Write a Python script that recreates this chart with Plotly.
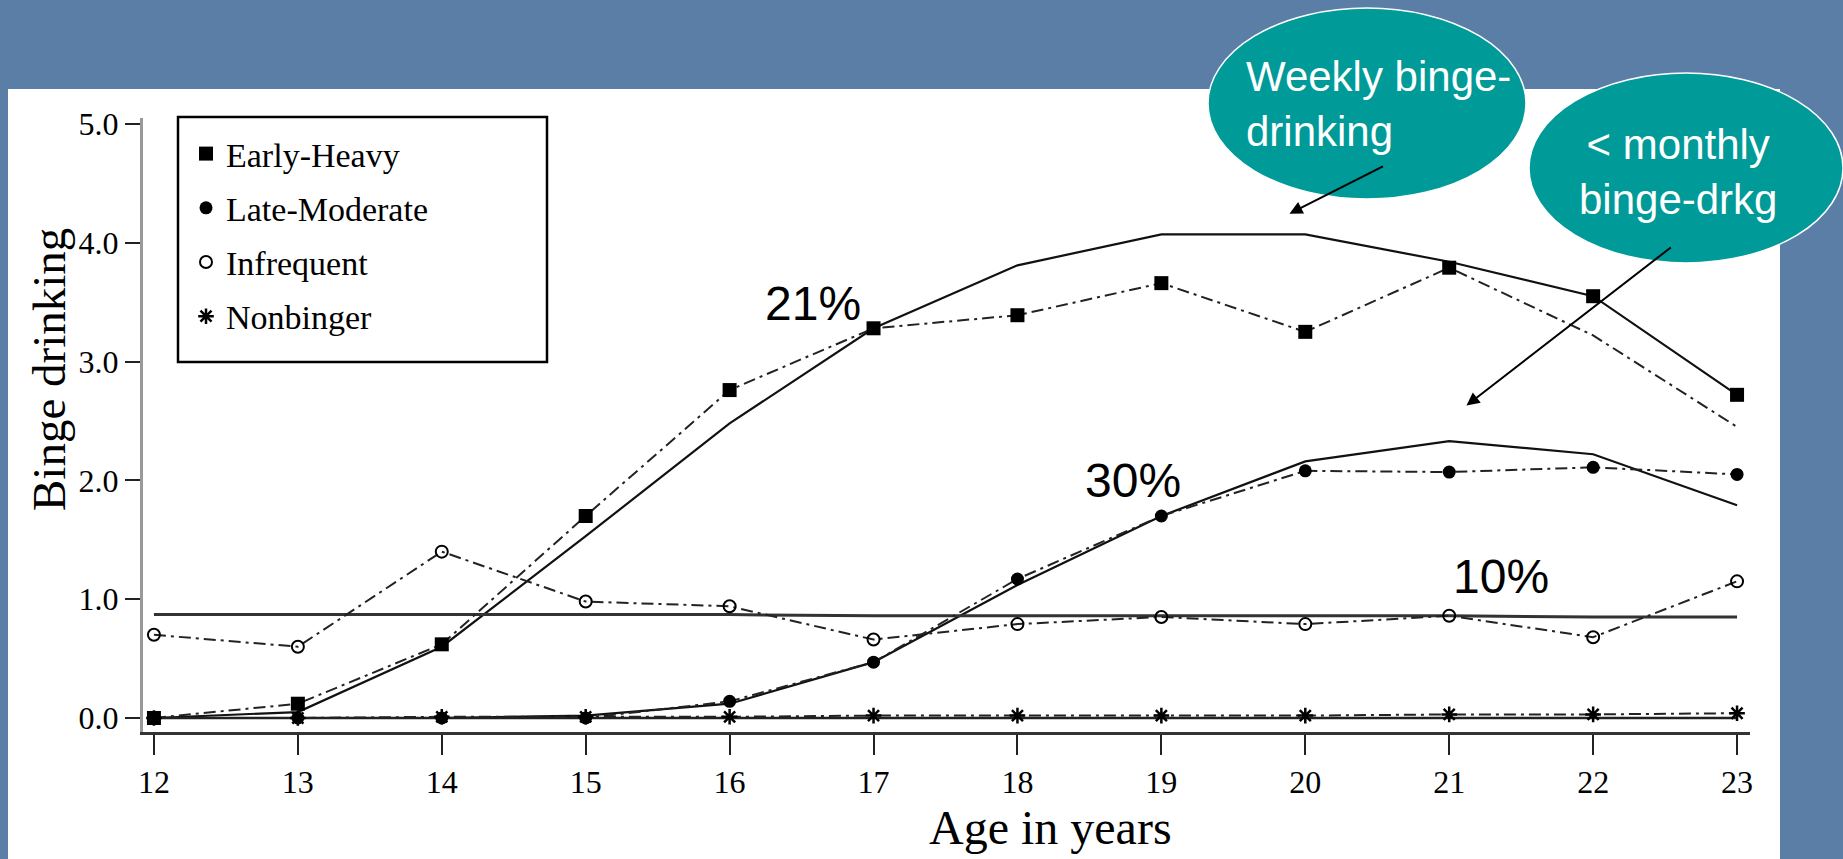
import plotly.graph_objects as go

# ---------------- data ----------------
ages = [12, 13, 14, 15, 16, 17, 18, 19, 20, 21, 22, 23]
series_names = ["Early-Heavy", "Late-Moderate", "Infrequent", "Nonbinger"]

early_heavy_points = [0.00, 0.12, 0.62, 1.70, 2.76, 3.28, 3.39, 3.66, 3.25, 3.79, 3.55, 2.72]
early_heavy_dashed = [0.00, 0.12, 0.62, 1.70, 2.76, 3.28, 3.39, 3.66, 3.25, 3.79, 3.22, 2.45]
early_heavy_fit = [0.00, 0.05, 0.60, 1.53, 2.48, 3.28, 3.81, 4.07, 4.07, 3.84, 3.55, 2.72]

late_moderate_points = [0.00, 0.00, 0.00, 0.00, 0.14, 0.47, 1.17, 1.70, 2.08, 2.07, 2.11, 2.05]
late_moderate_fit = [0.00, 0.00, 0.00, 0.02, 0.12, 0.47, 1.12, 1.70, 2.16, 2.33, 2.22, 1.79]

infrequent_points = [0.70, 0.60, 1.40, 0.98, 0.94, 0.66, 0.79, 0.85, 0.79, 0.86, 0.68, 1.15]
infrequent_fit = [0.87, 0.87, 0.87, 0.87, 0.87, 0.86, 0.86, 0.86, 0.86, 0.86, 0.85, 0.85]

nonbinger_points = [0.00, 0.00, 0.01, 0.01, 0.01, 0.02, 0.02, 0.02, 0.02, 0.03, 0.03, 0.04]
nonbinger_fit = [0.00, 0.00, 0.00, 0.00, 0.00, 0.00, 0.00, 0.00, 0.00, 0.00, 0.00, 0.00]

y_tick_values = [0, 1, 2, 3, 4, 5]
y_tick_labels = ["0.0", "1.0", "2.0", "3.0", "4.0", "5.0"]

pct_labels = ["21%", "30%", "10%"]
pct_x = [16.58, 18.80, 21.36]
pct_y = [3.49, 2.00, 1.19]

callout_weekly = "Weekly binge-<br>drinking"
callout_monthly = "< monthly<br>binge-drkg"

# ---------------- layout geometry (pixels) ----------------
W, H = 1843, 859
PL, PR, PT, PB = 143, 1750, 118, 732   # plot area in pixels


def px(x):
    return (x - PL) / (PR - PL)


def py(y):
    return (PB - y) / (PB - PT)


SERIF = "Liberation Serif, Times New Roman, serif"
SANS = "Liberation Sans, Arial, sans-serif"
DASHDOT = "12px,5px,3px,5px"
BLUE = "#5a7ea5"
TEAL = "#009a99"

fig = go.Figure()

# fitted (solid) lines
for vals, col, w in [(early_heavy_fit, "#111", 2.2), (late_moderate_fit, "#111", 2.2),
                     (infrequent_fit, "#333", 3), (nonbinger_fit, "#222", 2.5)]:
    fig.add_trace(go.Scatter(x=ages, y=vals, mode="lines", showlegend=False,
                             line=dict(color=col, width=w), hoverinfo="skip", cliponaxis=False))

# observed (dash-dot) lines
for vals in [early_heavy_dashed, late_moderate_points, infrequent_points, nonbinger_points]:
    fig.add_trace(go.Scatter(x=ages, y=vals, mode="lines", showlegend=False,
                             line=dict(color="#222", width=2, dash=DASHDOT), hoverinfo="skip",
                             cliponaxis=False))

# markers (also used for legend)
marker_styles = [
    dict(symbol="square", size=14, color="black"),
    dict(symbol="circle", size=13, color="black"),
    dict(symbol="circle-open", size=12, color="black", line=dict(width=2, color="black")),
    dict(symbol="asterisk-open", size=13, color="black", line=dict(width=2.5, color="black")),
]
for name, vals, ms in zip(series_names,
                          [early_heavy_points, late_moderate_points, infrequent_points, nonbinger_points],
                          marker_styles):
    fig.add_trace(go.Scatter(x=ages, y=vals, mode="markers", name=name, legendgroup=name,
                             marker=ms, cliponaxis=False))

shapes = [
    # white slide panel
    dict(type="rect", xref="paper", yref="paper", x0=px(8), x1=px(1780), y0=py(870), y1=py(89),
         fillcolor="white", line=dict(width=0), layer="below"),
    # legend box
    dict(type="rect", xref="paper", yref="paper", x0=px(178), x1=px(547), y0=py(362), y1=py(117),
         fillcolor="rgba(0,0,0,0)", line=dict(color="black", width=2.5), layer="above"),
    # callout ellipses
    dict(type="circle", xref="paper", yref="paper", x0=px(1208), x1=px(1526), y0=py(199), y1=py(8),
         fillcolor=TEAL, line=dict(color="white", width=1.5), layer="above"),
    dict(type="circle", xref="paper", yref="paper", x0=px(1529), x1=px(1843), y0=py(263), y1=py(73),
         fillcolor=TEAL, line=dict(color="white", width=1.5), layer="above"),
]

annotations = []
for t, x, y in zip(pct_labels, pct_x, pct_y):
    annotations.append(dict(x=x, y=y, xref="x", yref="y", text=t, showarrow=False,
                            xanchor="center", yanchor="middle",
                            font=dict(family=SANS, size=48, color="black")))

annotations += [
    dict(x=px(1244), y=py(104), xref="paper", yref="paper", xanchor="left", yanchor="middle",
         align="left", text=callout_weekly, showarrow=False,
         font=dict(family=SANS, size=42, color="white")),
    dict(x=px(1678), y=py(172), xref="paper", yref="paper", xanchor="center", yanchor="middle",
         align="center", text=callout_monthly, showarrow=False,
         font=dict(family=SANS, size=42, color="white")),
    # arrows
    dict(x=19.89, y=4.245, ax=20.55, ay=4.65, xref="x", yref="y", axref="x", ayref="y",
         text="", showarrow=True, arrowhead=2, arrowsize=1.3, arrowwidth=2, arrowcolor="black"),
    dict(x=21.12, y=2.63, ax=22.55, ay=3.97, xref="x", yref="y", axref="x", ayref="y",
         text="", showarrow=True, arrowhead=2, arrowsize=1.3, arrowwidth=2, arrowcolor="black"),
    # axis titles
    dict(x=px(49), y=py(370), xref="paper", yref="paper", text="Binge drinking", textangle=-90,
         xanchor="center", yanchor="middle",
         showarrow=False, font=dict(family=SERIF, size=47, color="black")),
    dict(x=px(1050), y=py(827), xref="paper", yref="paper", text="Age in years",
         xanchor="center", yanchor="middle",
         showarrow=False, font=dict(family=SERIF, size=48, color="black")),
]

fig.update_layout(
    width=W, height=H,
    margin=dict(l=PL, r=W - PR, t=PT, b=H - PB, pad=0, autoexpand=False),
    paper_bgcolor=BLUE,
    plot_bgcolor="rgba(0,0,0,0)",
    shapes=shapes,
    annotations=annotations,
    showlegend=True,
    legend=dict(x=px(186), y=py(125), xanchor="left", yanchor="top",
                bgcolor="rgba(0,0,0,0)", borderwidth=0,
                font=dict(family=SERIF, size=34, color="black"),
                traceorder="grouped", tracegroupgap=7),
    xaxis=dict(range=[11.924, 23.09], tickvals=ages, ticktext=[str(a) for a in ages],
               showgrid=False, zeroline=False, showline=True, linecolor="#333", linewidth=3,
               ticks="outside", ticklen=20, tickwidth=2, tickcolor="#222", automargin=False,
               tickfont=dict(family=SERIF, size=32, color="black")),
    yaxis=dict(range=[-0.118, 5.05], tickvals=y_tick_values, ticktext=y_tick_labels,
               showgrid=False, zeroline=False, showline=True, linecolor="#999", linewidth=3,
               ticks="outside", ticklen=15, tickwidth=2, tickcolor="#222", automargin=False,
               tickfont=dict(family=SERIF, size=32, color="black")),
)

fig.write_html("out.html", config={"displayModeBar": False},
               post_script="document.body.style.margin='0';document.body.style.overflow='hidden';")
